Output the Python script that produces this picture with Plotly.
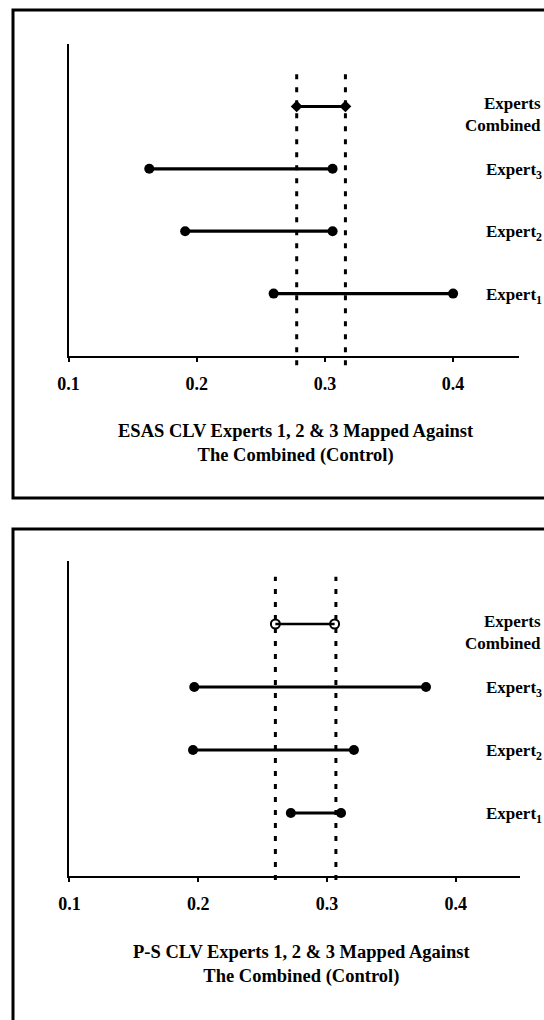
import plotly.graph_objects as go

# ---- data ----
rows = ["Expert<sub>1</sub>", "Expert<sub>2</sub>", "Expert<sub>3</sub>", "Experts<br>Combined"]
row_pos = [1, 2, 3, 4]

esas_low = [0.260, 0.191, 0.163, 0.278]
esas_high = [0.400, 0.306, 0.306, 0.316]
esas_control = [0.278, 0.316]

ps_low = [0.272, 0.196, 0.197, 0.260]
ps_high = [0.311, 0.321, 0.377, 0.306]
ps_control = [0.260, 0.307]

tick_vals = [0.1, 0.2, 0.3, 0.4]
tick_text = ["0.1", "0.2", "0.3", "0.4"]

titles = ["ESAS CLV Experts 1, 2 &amp; 3 Mapped Against<br>The Combined (Control)",
          "P-S CLV Experts 1, 2 &amp; 3 Mapped Against<br>The Combined (Control)"]

W, H = 544, 1020
SERIF = "Liberation Serif, Times New Roman, serif"

fig = go.Figure()

panels = [
    dict(low=esas_low, high=esas_high, ctrl=esas_control, xa="x", ya="y",
         comb_symbol="diamond", comb_size=7, comb_lw=3),
    dict(low=ps_low, high=ps_high, ctrl=ps_control, xa="x2", ya="y2",
         comb_symbol="circle-open", comb_size=9, comb_lw=2.5),
]

for p in panels:
    for i, (lo, hi, yv) in enumerate(zip(p["low"], p["high"], row_pos)):
        combined = (i == len(row_pos) - 1)
        if combined:
            marker = dict(symbol=p["comb_symbol"], size=p["comb_size"], color="black",
                          line=dict(color="black", width=2))
            lw = p["comb_lw"]
        else:
            marker = dict(symbol="circle", size=10, color="black")
            lw = 3.2
        fig.add_trace(go.Scatter(
            x=[lo, hi], y=[yv, yv], mode="lines+markers",
            line=dict(color="black", width=lw), marker=marker,
            xaxis=p["xa"], yaxis=p["ya"], showlegend=False, hoverinfo="skip",
            cliponaxis=False))

axis_common = dict(showgrid=False, zeroline=False, showline=True, linecolor="black",
                   linewidth=2)
tickfont = dict(family=SERIF, size=18, color="black", weight="bold")

fig.update_layout(
    width=W, height=H, margin=dict(l=0, r=0, t=0, b=0, autoexpand=False),
    paper_bgcolor="white", plot_bgcolor="white", showlegend=False,
    xaxis=dict(domain=[68.5 / W, 519 / W], range=[0.1, 0.4514], anchor="y",
               tickvals=tick_vals, ticktext=tick_text, ticks="outside", ticklen=4,
               tickwidth=2, tickcolor="black", ticklabelstandoff=6,
               tickfont=tickfont, **axis_common),
    yaxis=dict(domain=[1 - 356 / H, 1 - 44 / H], range=[0, 5], anchor="x",
               showticklabels=False, ticks="", **axis_common),
    xaxis2=dict(domain=[69.4 / W, 520 / W], range=[0.1, 0.45], anchor="y2",
                tickvals=tick_vals, ticktext=tick_text, ticks="outside", ticklen=4,
                tickwidth=2, tickcolor="black", ticklabelstandoff=6,
                tickfont=tickfont, **axis_common),
    yaxis2=dict(domain=[1 - 876 / H, 1 - 561 / H], range=[0, 5], anchor="x2",
                showticklabels=False, ticks="", **axis_common),
)

shapes = []
annotations = []
dot_extent = [(-0.03, 0.907), (-0.013, 0.95)]
frames = [(10 / H, 498 / H), (529 / H, 1030 / H)]
title_y = [1 - 443 / H, 1 - 964 / H]
title_x = [296 / W, 301 / W]

for k, p in enumerate(panels):
    ya_dom = p["ya"] + " domain"
    for cx in p["ctrl"]:
        shapes.append(dict(type="line", xref=p["xa"], yref=ya_dom, x0=cx, x1=cx,
                           y0=dot_extent[k][0], y1=dot_extent[k][1],
                           line=dict(color="black", width=3, dash="5px,8px"),
                           layer="above"))
    top, bot = frames[k]
    shapes.append(dict(type="rect", xref="paper", yref="paper", x0=13 / W, x1=1.05,
                       y0=1 - bot, y1=1 - top, line=dict(color="black", width=3),
                       fillcolor="rgba(0,0,0,0)"))
    for name, yv in zip(rows, row_pos):
        comb = "<br>" in name
        annotations.append(dict(
            text=name, xref="paper", yref=p["ya"], x=(543 / W) if comb else (484 / W),
            y=yv, xanchor="right" if comb else "left", yanchor="middle",
            align="right", showarrow=False, yshift=-8 if comb else -2,
            font=dict(family=SERIF, size=17, color="black", weight="bold")))
    annotations.append(dict(
        text=titles[k], xref="paper", yref="paper", x=title_x[k], y=title_y[k],
        xanchor="center", yanchor="middle", align="center", showarrow=False,
        font=dict(family=SERIF, size=18.5, color="black", weight="bold")))

fig.update_layout(shapes=shapes, annotations=annotations)

fig.write_html("out.html", config={"displayModeBar": False},
               post_script="document.body.style.margin='0';document.body.style.padding='0';")
